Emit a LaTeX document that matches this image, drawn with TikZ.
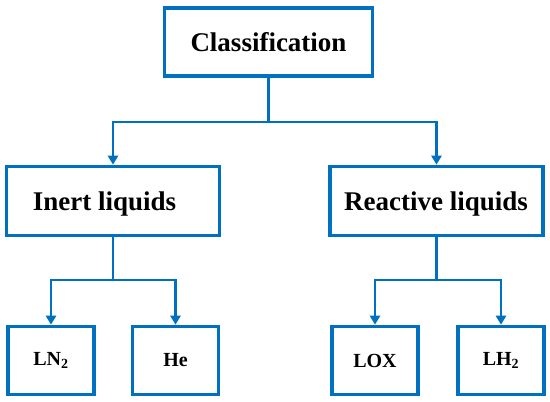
\documentclass[tikz,border=0pt]{standalone}
\usepackage{fontspec}
\setmainfont{Liberation Serif}
\usetikzlibrary{arrows.meta}
\definecolor{lineblue}{HTML}{0070C0}
\tikzset{
  box/.style={draw=lineblue, line width=3.6pt, fill=white, inner sep=0pt, font=\bfseries},
  bigbox/.style={box, font=\fontsize{27}{30}\selectfont\bfseries},
  smallbox/.style={box, minimum width=86pt, minimum height=68pt, font=\fontsize{20}{23}\selectfont\bfseries},
  conn/.style={draw=lineblue, line width=2.8pt},
  arr/.style={conn, -{Triangle[length=9pt,width=10pt]}}
}
\begin{document}
\begin{tikzpicture}[x=1pt,y=-1pt]
\useasboundingbox (0,0) rectangle (550,402);
\node[bigbox, minimum width=208pt, minimum height=68pt] (cls) at (268.5,42) {Classification};
\node[bigbox, minimum width=213pt, minimum height=69pt] (inert) at (113,201) {};
\node[font=\fontsize{27}{30}\selectfont\bfseries] (inertt) at (104.5,204) {Inert liquids};
\node[bigbox, minimum width=213pt, minimum height=69pt] (react) at (436.5,201) {};
\node[font=\fontsize{27}{30}\selectfont\bfseries] (reactt) at (436,204) {Reactive liquids};
\node[smallbox] (ln2) at (51,360.5) {LN$_\mathbf{2}$};
\node[smallbox] (he) at (175.5,360.5) {He};
\node[smallbox] (lox) at (375,360.5) {LOX};
\node[smallbox] (lh2) at (501,360.5) {LH$_\mathbf{2}$};
\coordinate (j1) at (268.5,122);
\coordinate (j2) at (113,280);
\coordinate (j3) at (436.5,280);
\draw[conn] (cls.south) -- (j1);
\draw[arr] (j1) -| (inert.north);
\draw[arr] (j1) -| (react.north);
\draw[conn] (inert.south) -- (j2);
\draw[arr] (j2) -| (ln2.north);
\draw[arr] (j2) -| (he.north);
\draw[conn] (react.south) -- (j3);
\draw[arr] (j3) -| (lox.north);
\draw[arr] (j3) -| (lh2.north);
\end{tikzpicture}
\end{document}
